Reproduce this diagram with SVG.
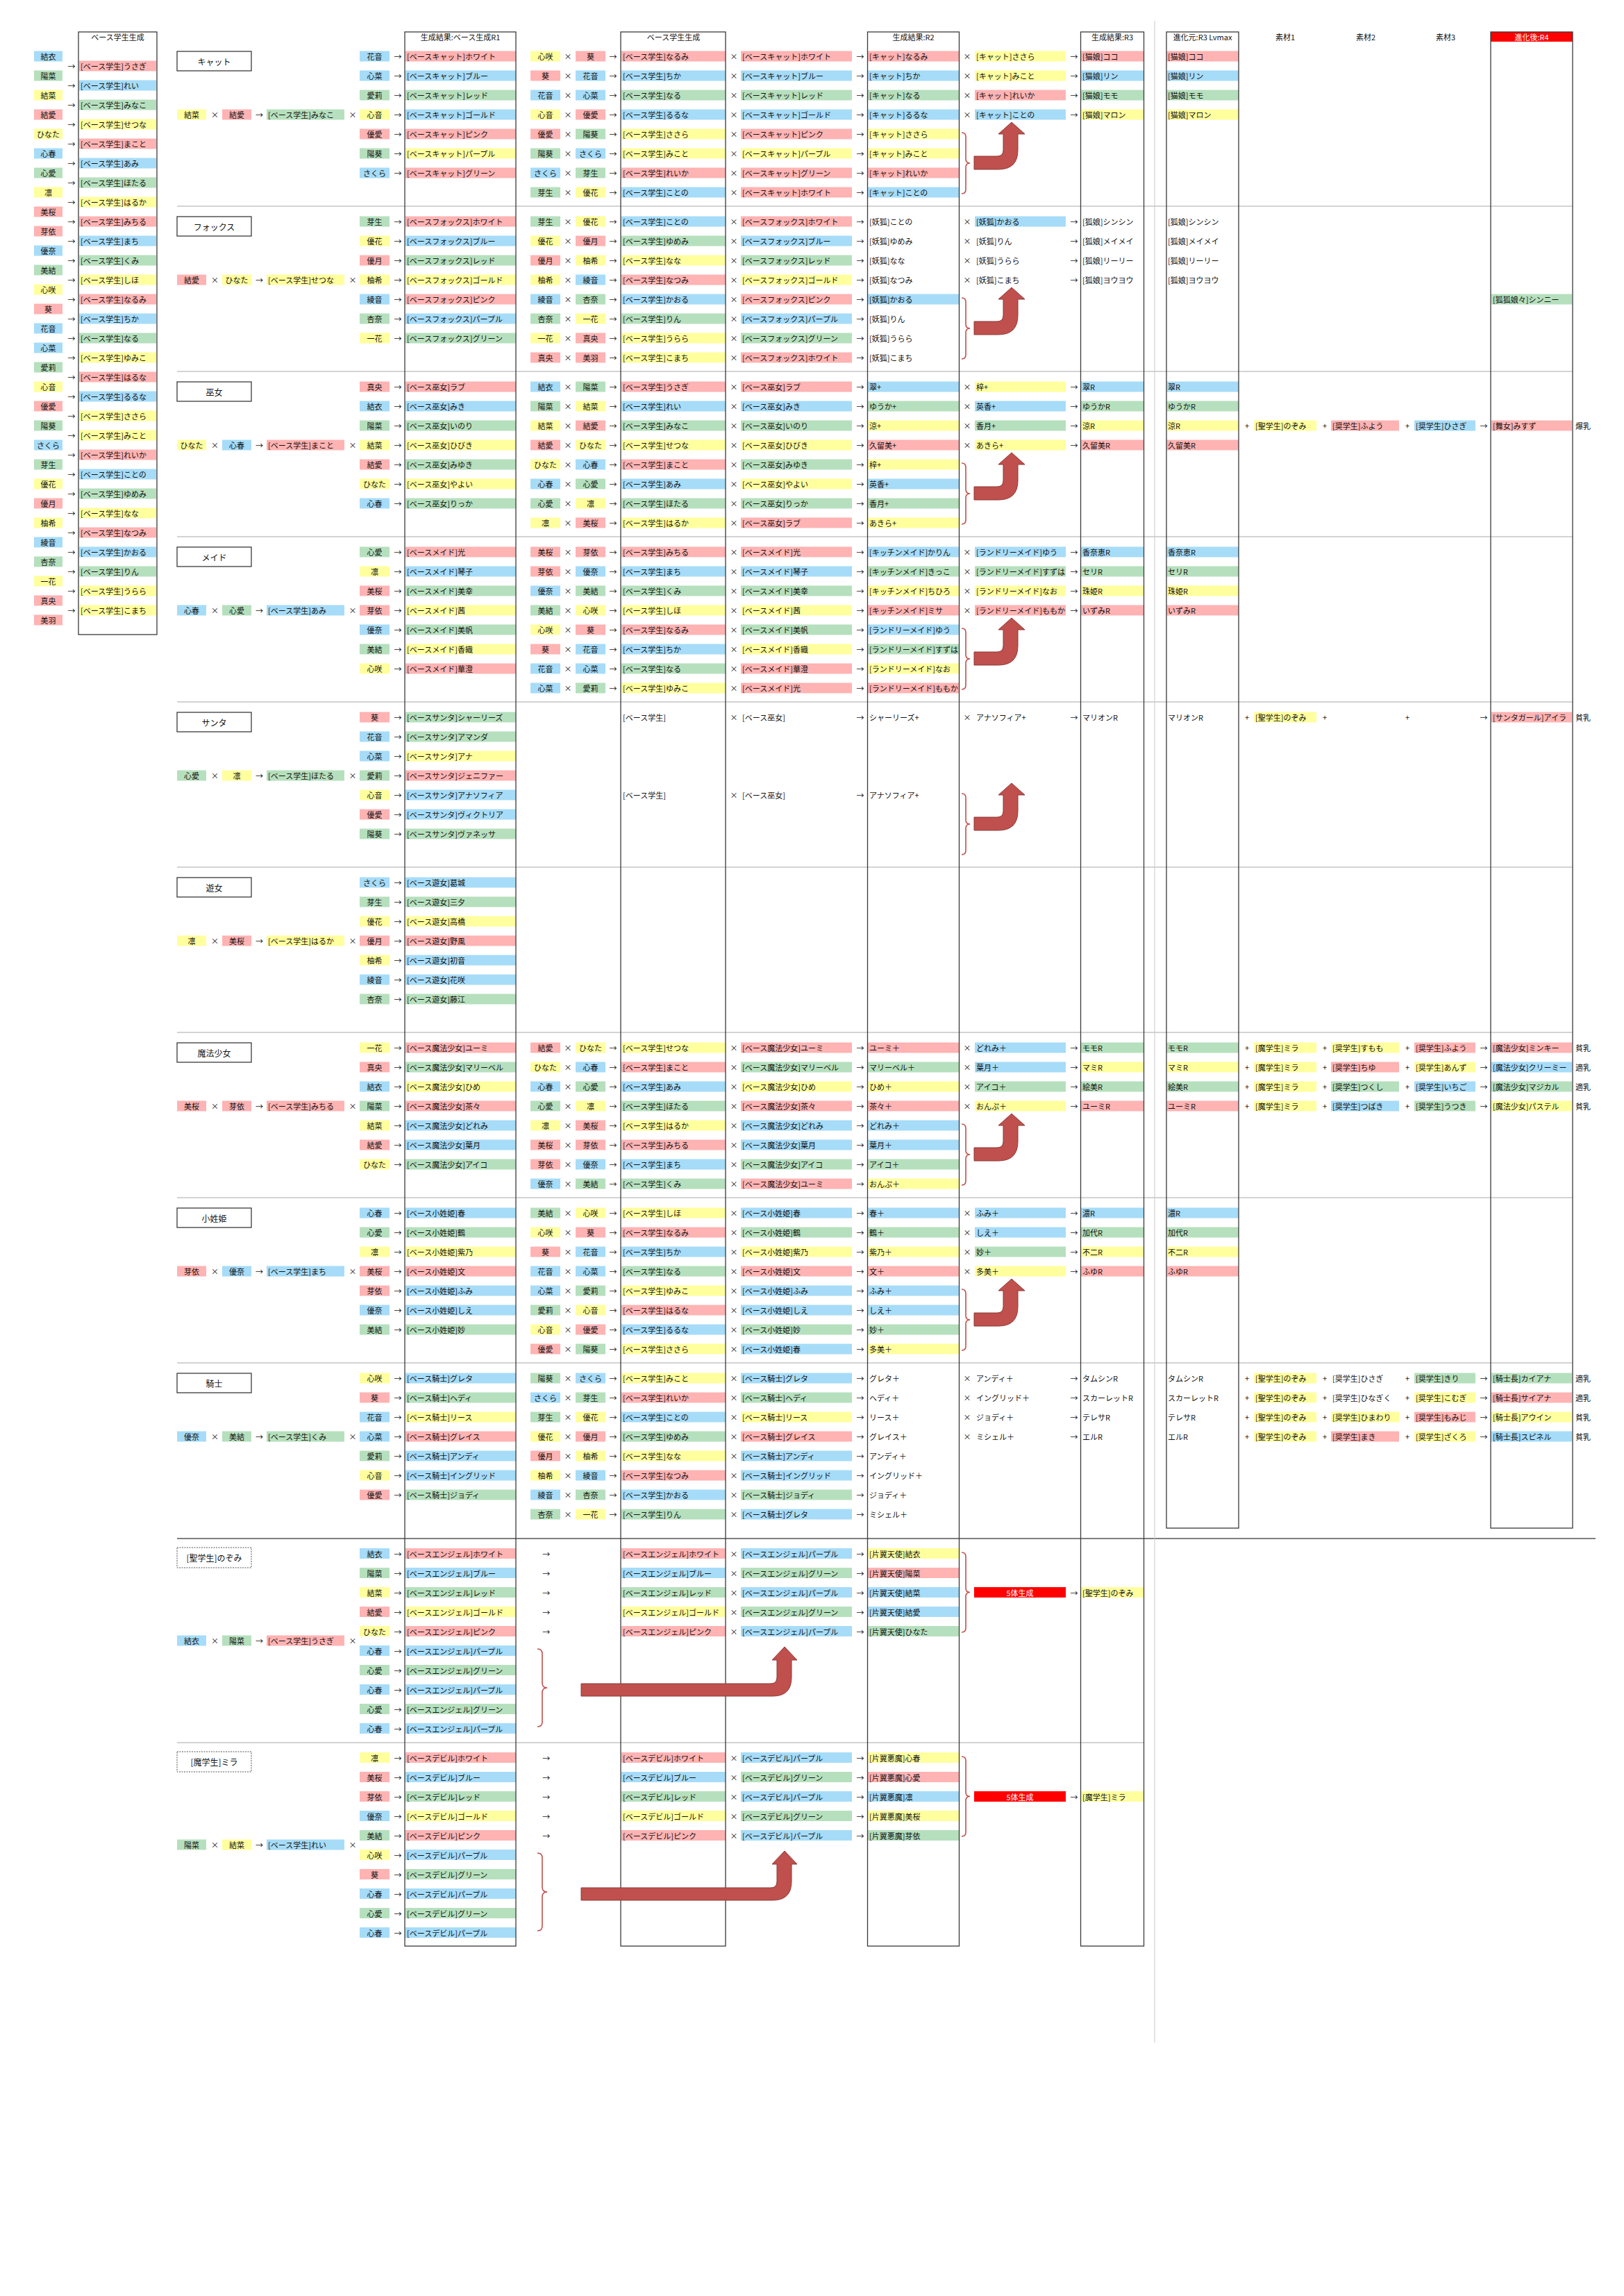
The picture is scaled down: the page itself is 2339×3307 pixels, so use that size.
<svg xmlns="http://www.w3.org/2000/svg" xmlns:xlink="http://www.w3.org/1999/xlink" width="2339" height="3307" viewBox="0 0 2339 3307">
<style>
text{font-family:"Noto Sans CJK JP","Noto Sans",sans-serif;font-size:11px;fill:#111;dominant-baseline:central}
.m{text-anchor:middle}
.k{font-size:12px}
.wt{fill:#fff}
.p{fill:#ffb3b3}.b{fill:#a6dcf8}.g{fill:#b6e0bd}.y{fill:#ffff9e}
.col{fill:none;stroke:#3a3a3a;stroke-width:1.3}
.box{fill:#fff;stroke:#3a3a3a;stroke-width:1.3}
.dot{fill:#fff;stroke:#555;stroke-width:1;stroke-dasharray:2 1.5}
.sep{stroke:#a8a8a8;stroke-width:1}
.br{fill:none;stroke:#c0504d;stroke-width:1.6}
.ar{fill:#c0504d;stroke:#8c3836;stroke-width:1}
</style>
<defs>
<rect id="uA" x="255" y="-7.5" width="42" height="15"/>
<rect id="uB" x="320" y="-7.5" width="42" height="15"/>
<rect id="uC" x="384" y="-7.5" width="112" height="15"/>
<rect id="uN" x="518" y="-7.5" width="43" height="15"/>
<rect id="uR" x="584" y="-7.5" width="159" height="15"/>
<rect id="uPA" x="764" y="-7.5" width="43" height="15"/>
<rect id="uPB" x="829" y="-7.5" width="43" height="15"/>
<rect id="uS" x="895" y="-7.5" width="150" height="15"/>
<rect id="uD" x="1067" y="-7.5" width="160" height="15"/>
<rect id="uE" x="1250" y="-7.5" width="131" height="15"/>
<rect id="uF" x="1404" y="-7.5" width="131" height="15"/>
<rect id="uG" x="1557" y="-7.5" width="90" height="15"/>
<rect id="uH" x="1680" y="-7.5" width="104" height="15"/>
<rect id="uM1" x="1806" y="-7.5" width="90" height="15"/>
<rect id="uM2" x="1917" y="-7.5" width="98" height="15"/>
<rect id="uM3" x="2037" y="-7.5" width="88" height="15"/>
<rect id="uR4" x="2148" y="-7.5" width="116" height="15"/>
<rect id="uLN" x="49" y="-7.5" width="41" height="15"/>
<rect id="uLS" x="114" y="-7.5" width="111" height="15"/>
<g id="s1" class="m"><text x="573">→</text></g>
<g id="s2" class="m"><text x="818">×</text><text x="883">→</text><text x="1057">×</text><text x="1239">→</text></g>
<g id="s3" class="m"><text x="1393">×</text><text x="1547">→</text></g>
<g id="sM" class="m"><text x="1796">+</text><text x="1908">+</text><text x="2027">+</text><text x="2137">→</text></g>
<g id="sF" class="m"><text x="309.5">×</text><text x="373.5">→</text><text x="508">×</text></g>
<g id="sA" class="m"><text x="786.7">→</text><text x="1057">×</text><text x="1239">→</text></g>
<path id="brc" class="br" d="M1385 132q6 0 6 6v32q0 6 6 6q-6 0-6 6v32q0 6-6 6"/>
<path id="arr" class="ar" d="M1403 166H1436Q1445 166 1445 157V134H1438L1457 117L1476 134H1466V157Q1466 185 1438 185H1403Z"/>
<path id="brU" class="br" d="M1385 20q6 0 6 6v45.5q0 6 6 6q-6 0-6 6v45.5q0 6-6 6"/>
<path id="brL" class="br" d="M774 159q7 0 7 7v42q0 7 7 7q-7 0-7 7v42q0 7-7 7"/>
<path id="arB" class="ar" d="M837 209H1110Q1119 209 1119 200V175H1112L1130 156L1148 175H1140V200Q1140 227 1113 227H837Z"/>
</defs>
<rect width="2339" height="3307" fill="#fff"/>

<g id="grid">
<line class="sep" x1="255" y1="297" x2="2265" y2="297"/>
<line class="sep" x1="255" y1="535" x2="2265" y2="535"/>
<line class="sep" x1="255" y1="773" x2="2265" y2="773"/>
<line class="sep" x1="255" y1="1011" x2="2265" y2="1011"/>
<line class="sep" x1="255" y1="1249" x2="2265" y2="1249"/>
<line class="sep" x1="255" y1="1487" x2="2265" y2="1487"/>
<line class="sep" x1="255" y1="1725" x2="2265" y2="1725"/>
<line class="sep" x1="255" y1="1963" x2="2265" y2="1963"/>
<line x1="255" y1="2216" x2="2298" y2="2216" stroke="#555" stroke-width="1.6"/>
<line class="sep" x1="255" y1="2510" x2="1647" y2="2510"/>
<line x1="1663" y1="30" x2="1663" y2="2942" stroke="#c8c8c8" stroke-width="1"/>
</g>

<g id="left-list">
<use href="#uLN" y="81" class="b"/><text x="69.5" y="81" class="m">結衣</text>
<use href="#uLN" y="109" class="g"/><text x="69.5" y="109" class="m">陽菜</text>
<use href="#uLN" y="137" class="y"/><text x="69.5" y="137" class="m">結菜</text>
<use href="#uLN" y="165" class="p"/><text x="69.5" y="165" class="m">結愛</text>
<use href="#uLN" y="193" class="y"/><text x="69.5" y="193" class="m">ひなた</text>
<use href="#uLN" y="221" class="b"/><text x="69.5" y="221" class="m">心春</text>
<use href="#uLN" y="249" class="g"/><text x="69.5" y="249" class="m">心愛</text>
<use href="#uLN" y="277" class="y"/><text x="69.5" y="277" class="m">凛</text>
<use href="#uLN" y="305" class="p"/><text x="69.5" y="305" class="m">美桜</text>
<use href="#uLN" y="333" class="p"/><text x="69.5" y="333" class="m">芽依</text>
<use href="#uLN" y="361" class="b"/><text x="69.5" y="361" class="m">優奈</text>
<use href="#uLN" y="389" class="g"/><text x="69.5" y="389" class="m">美結</text>
<use href="#uLN" y="417" class="y"/><text x="69.5" y="417" class="m">心咲</text>
<use href="#uLN" y="445" class="p"/><text x="69.5" y="445" class="m">葵</text>
<use href="#uLN" y="473" class="b"/><text x="69.5" y="473" class="m">花音</text>
<use href="#uLN" y="501" class="b"/><text x="69.5" y="501" class="m">心菜</text>
<use href="#uLN" y="529" class="g"/><text x="69.5" y="529" class="m">愛莉</text>
<use href="#uLN" y="557" class="y"/><text x="69.5" y="557" class="m">心音</text>
<use href="#uLN" y="585" class="p"/><text x="69.5" y="585" class="m">優愛</text>
<use href="#uLN" y="613" class="g"/><text x="69.5" y="613" class="m">陽葵</text>
<use href="#uLN" y="641" class="b"/><text x="69.5" y="641" class="m">さくら</text>
<use href="#uLN" y="669" class="g"/><text x="69.5" y="669" class="m">芽生</text>
<use href="#uLN" y="697" class="y"/><text x="69.5" y="697" class="m">優花</text>
<use href="#uLN" y="725" class="p"/><text x="69.5" y="725" class="m">優月</text>
<use href="#uLN" y="753" class="y"/><text x="69.5" y="753" class="m">柚希</text>
<use href="#uLN" y="781" class="b"/><text x="69.5" y="781" class="m">綾音</text>
<use href="#uLN" y="809" class="g"/><text x="69.5" y="809" class="m">杏奈</text>
<use href="#uLN" y="837" class="y"/><text x="69.5" y="837" class="m">一花</text>
<use href="#uLN" y="865" class="p"/><text x="69.5" y="865" class="m">真央</text>
<use href="#uLN" y="893" class="p"/><text x="69.5" y="893" class="m">美羽</text>
<use href="#uLS" y="95" class="p"/><text x="103" y="95" class="m">→</text><text x="116" y="95">[ベース学生]うさぎ</text>
<use href="#uLS" y="123" class="b"/><text x="103" y="123" class="m">→</text><text x="116" y="123">[ベース学生]れい</text>
<use href="#uLS" y="151" class="g"/><text x="103" y="151" class="m">→</text><text x="116" y="151">[ベース学生]みなこ</text>
<use href="#uLS" y="179" class="y"/><text x="103" y="179" class="m">→</text><text x="116" y="179">[ベース学生]せつな</text>
<use href="#uLS" y="207" class="p"/><text x="103" y="207" class="m">→</text><text x="116" y="207">[ベース学生]まこと</text>
<use href="#uLS" y="235" class="b"/><text x="103" y="235" class="m">→</text><text x="116" y="235">[ベース学生]あみ</text>
<use href="#uLS" y="263" class="g"/><text x="103" y="263" class="m">→</text><text x="116" y="263">[ベース学生]ほたる</text>
<use href="#uLS" y="291" class="y"/><text x="103" y="291" class="m">→</text><text x="116" y="291">[ベース学生]はるか</text>
<use href="#uLS" y="319" class="p"/><text x="103" y="319" class="m">→</text><text x="116" y="319">[ベース学生]みちる</text>
<use href="#uLS" y="347" class="b"/><text x="103" y="347" class="m">→</text><text x="116" y="347">[ベース学生]まち</text>
<use href="#uLS" y="375" class="g"/><text x="103" y="375" class="m">→</text><text x="116" y="375">[ベース学生]くみ</text>
<use href="#uLS" y="403" class="y"/><text x="103" y="403" class="m">→</text><text x="116" y="403">[ベース学生]しほ</text>
<use href="#uLS" y="431" class="p"/><text x="103" y="431" class="m">→</text><text x="116" y="431">[ベース学生]なるみ</text>
<use href="#uLS" y="459" class="b"/><text x="103" y="459" class="m">→</text><text x="116" y="459">[ベース学生]ちか</text>
<use href="#uLS" y="487" class="g"/><text x="103" y="487" class="m">→</text><text x="116" y="487">[ベース学生]なる</text>
<use href="#uLS" y="515" class="y"/><text x="103" y="515" class="m">→</text><text x="116" y="515">[ベース学生]ゆみこ</text>
<use href="#uLS" y="543" class="p"/><text x="103" y="543" class="m">→</text><text x="116" y="543">[ベース学生]はるな</text>
<use href="#uLS" y="571" class="b"/><text x="103" y="571" class="m">→</text><text x="116" y="571">[ベース学生]るるな</text>
<use href="#uLS" y="599" class="y"/><text x="103" y="599" class="m">→</text><text x="116" y="599">[ベース学生]ささら</text>
<use href="#uLS" y="627" class="y"/><text x="103" y="627" class="m">→</text><text x="116" y="627">[ベース学生]みこと</text>
<use href="#uLS" y="655" class="p"/><text x="103" y="655" class="m">→</text><text x="116" y="655">[ベース学生]れいか</text>
<use href="#uLS" y="683" class="b"/><text x="103" y="683" class="m">→</text><text x="116" y="683">[ベース学生]ことの</text>
<use href="#uLS" y="711" class="g"/><text x="103" y="711" class="m">→</text><text x="116" y="711">[ベース学生]ゆめみ</text>
<use href="#uLS" y="739" class="y"/><text x="103" y="739" class="m">→</text><text x="116" y="739">[ベース学生]なな</text>
<use href="#uLS" y="767" class="p"/><text x="103" y="767" class="m">→</text><text x="116" y="767">[ベース学生]なつみ</text>
<use href="#uLS" y="795" class="b"/><text x="103" y="795" class="m">→</text><text x="116" y="795">[ベース学生]かおる</text>
<use href="#uLS" y="823" class="g"/><text x="103" y="823" class="m">→</text><text x="116" y="823">[ベース学生]りん</text>
<use href="#uLS" y="851" class="y"/><text x="103" y="851" class="m">→</text><text x="116" y="851">[ベース学生]うらら</text>
<use href="#uLS" y="879" class="y"/><text x="103" y="879" class="m">→</text><text x="116" y="879">[ベース学生]こまち</text>
</g>

<g id="sec-cat" transform="translate(0,59)">
<rect class="box" x="255" y="15" width="107" height="28"/><text class="m k" x="308.5" y="29">キャット</text>
<g transform="translate(0,22)"><use href="#uN" class="b"/><text x="539.5" class="m">花音</text><use href="#s1"/><use href="#uR" class="p"/><text x="586">[ベースキャット]ホワイト</text><use href="#uPA" class="y"/><text x="785.5" class="m">心咲</text><use href="#uPB" class="p"/><text x="850.5" class="m">葵</text><use href="#s2"/><use href="#uS" class="p"/><text x="897">[ベース学生]なるみ</text><use href="#uD" class="p"/><text x="1069">[ベースキャット]ホワイト</text><use href="#uE" class="p"/><text x="1252">[キャット]なるみ</text><use href="#s3"/><use href="#uF" class="y"/><text x="1406">[キャット]ささら</text><use href="#uG" class="p"/><text x="1559">[猫娘]ココ</text><use href="#uH" class="p"/><text x="1682">[猫娘]ココ</text></g>
<g transform="translate(0,50)"><use href="#uN" class="b"/><text x="539.5" class="m">心菜</text><use href="#s1"/><use href="#uR" class="b"/><text x="586">[ベースキャット]ブルー</text><use href="#uPA" class="p"/><text x="785.5" class="m">葵</text><use href="#uPB" class="b"/><text x="850.5" class="m">花音</text><use href="#s2"/><use href="#uS" class="b"/><text x="897">[ベース学生]ちか</text><use href="#uD" class="b"/><text x="1069">[ベースキャット]ブルー</text><use href="#uE" class="b"/><text x="1252">[キャット]ちか</text><use href="#s3"/><use href="#uF" class="y"/><text x="1406">[キャット]みこと</text><use href="#uG" class="b"/><text x="1559">[猫娘]リン</text><use href="#uH" class="b"/><text x="1682">[猫娘]リン</text></g>
<g transform="translate(0,78)"><use href="#uN" class="g"/><text x="539.5" class="m">愛莉</text><use href="#s1"/><use href="#uR" class="g"/><text x="586">[ベースキャット]レッド</text><use href="#uPA" class="b"/><text x="785.5" class="m">花音</text><use href="#uPB" class="b"/><text x="850.5" class="m">心菜</text><use href="#s2"/><use href="#uS" class="g"/><text x="897">[ベース学生]なる</text><use href="#uD" class="g"/><text x="1069">[ベースキャット]レッド</text><use href="#uE" class="g"/><text x="1252">[キャット]なる</text><use href="#s3"/><use href="#uF" class="p"/><text x="1406">[キャット]れいか</text><use href="#uG" class="g"/><text x="1559">[猫娘]モモ</text><use href="#uH" class="g"/><text x="1682">[猫娘]モモ</text></g>
<g transform="translate(0,106)"><use href="#uA" class="y"/><text x="276" class="m">結菜</text><use href="#uB" class="p"/><text x="341" class="m">結愛</text><use href="#uC" class="g"/><text x="386">[ベース学生]みなこ</text><use href="#sF"/><use href="#uN" class="y"/><text x="539.5" class="m">心音</text><use href="#s1"/><use href="#uR" class="b"/><text x="586">[ベースキャット]ゴールド</text><use href="#uPA" class="y"/><text x="785.5" class="m">心音</text><use href="#uPB" class="p"/><text x="850.5" class="m">優愛</text><use href="#s2"/><use href="#uS" class="b"/><text x="897">[ベース学生]るるな</text><use href="#uD" class="b"/><text x="1069">[ベースキャット]ゴールド</text><use href="#uE" class="b"/><text x="1252">[キャット]るるな</text><use href="#s3"/><use href="#uF" class="b"/><text x="1406">[キャット]ことの</text><use href="#uG" class="y"/><text x="1559">[猫娘]マロン</text><use href="#uH" class="y"/><text x="1682">[猫娘]マロン</text></g>
<g transform="translate(0,134)"><use href="#uN" class="p"/><text x="539.5" class="m">優愛</text><use href="#s1"/><use href="#uR" class="p"/><text x="586">[ベースキャット]ピンク</text><use href="#uPA" class="p"/><text x="785.5" class="m">優愛</text><use href="#uPB" class="g"/><text x="850.5" class="m">陽葵</text><use href="#s2"/><use href="#uS" class="y"/><text x="897">[ベース学生]ささら</text><use href="#uD" class="p"/><text x="1069">[ベースキャット]ピンク</text><use href="#uE" class="y"/><text x="1252">[キャット]ささら</text></g>
<g transform="translate(0,162)"><use href="#uN" class="g"/><text x="539.5" class="m">陽葵</text><use href="#s1"/><use href="#uR" class="y"/><text x="586">[ベースキャット]パープル</text><use href="#uPA" class="g"/><text x="785.5" class="m">陽葵</text><use href="#uPB" class="b"/><text x="850.5" class="m">さくら</text><use href="#s2"/><use href="#uS" class="y"/><text x="897">[ベース学生]みこと</text><use href="#uD" class="y"/><text x="1069">[ベースキャット]パープル</text><use href="#uE" class="y"/><text x="1252">[キャット]みこと</text></g>
<g transform="translate(0,190)"><use href="#uN" class="b"/><text x="539.5" class="m">さくら</text><use href="#s1"/><use href="#uR" class="p"/><text x="586">[ベースキャット]グリーン</text><use href="#uPA" class="b"/><text x="785.5" class="m">さくら</text><use href="#uPB" class="g"/><text x="850.5" class="m">芽生</text><use href="#s2"/><use href="#uS" class="p"/><text x="897">[ベース学生]れいか</text><use href="#uD" class="p"/><text x="1069">[ベースキャット]グリーン</text><use href="#uE" class="p"/><text x="1252">[キャット]れいか</text></g>
<g transform="translate(0,218)"><use href="#uPA" class="g"/><text x="785.5" class="m">芽生</text><use href="#uPB" class="y"/><text x="850.5" class="m">優花</text><use href="#s2"/><use href="#uS" class="b"/><text x="897">[ベース学生]ことの</text><use href="#uD" class="p"/><text x="1069">[ベースキャット]ホワイト</text><use href="#uE" class="b"/><text x="1252">[キャット]ことの</text></g>
</g>

<g id="sec-fox" transform="translate(0,297)">
<rect class="box" x="255" y="15" width="107" height="28"/><text class="m k" x="308.5" y="29">フォックス</text>
<g transform="translate(0,22)"><use href="#uN" class="g"/><text x="539.5" class="m">芽生</text><use href="#s1"/><use href="#uR" class="p"/><text x="586">[ベースフォックス]ホワイト</text><use href="#uPA" class="g"/><text x="785.5" class="m">芽生</text><use href="#uPB" class="y"/><text x="850.5" class="m">優花</text><use href="#s2"/><use href="#uS" class="b"/><text x="897">[ベース学生]ことの</text><use href="#uD" class="p"/><text x="1069">[ベースフォックス]ホワイト</text><text x="1252">[妖狐]ことの</text><use href="#s3"/><use href="#uF" class="b"/><text x="1406">[妖狐]かおる</text><text x="1559">[狐娘]シンシン</text><text x="1682">[狐娘]シンシン</text></g>
<g transform="translate(0,50)"><use href="#uN" class="y"/><text x="539.5" class="m">優花</text><use href="#s1"/><use href="#uR" class="b"/><text x="586">[ベースフォックス]ブルー</text><use href="#uPA" class="y"/><text x="785.5" class="m">優花</text><use href="#uPB" class="p"/><text x="850.5" class="m">優月</text><use href="#s2"/><use href="#uS" class="g"/><text x="897">[ベース学生]ゆめみ</text><use href="#uD" class="b"/><text x="1069">[ベースフォックス]ブルー</text><text x="1252">[妖狐]ゆめみ</text><use href="#s3"/><text x="1406">[妖狐]りん</text><text x="1559">[狐娘]メイメイ</text><text x="1682">[狐娘]メイメイ</text></g>
<g transform="translate(0,78)"><use href="#uN" class="p"/><text x="539.5" class="m">優月</text><use href="#s1"/><use href="#uR" class="g"/><text x="586">[ベースフォックス]レッド</text><use href="#uPA" class="p"/><text x="785.5" class="m">優月</text><use href="#uPB" class="y"/><text x="850.5" class="m">柚希</text><use href="#s2"/><use href="#uS" class="y"/><text x="897">[ベース学生]なな</text><use href="#uD" class="g"/><text x="1069">[ベースフォックス]レッド</text><text x="1252">[妖狐]なな</text><use href="#s3"/><text x="1406">[妖狐]うらら</text><text x="1559">[狐娘]リーリー</text><text x="1682">[狐娘]リーリー</text></g>
<g transform="translate(0,106)"><use href="#uA" class="p"/><text x="276" class="m">結愛</text><use href="#uB" class="y"/><text x="341" class="m">ひなた</text><use href="#uC" class="y"/><text x="386">[ベース学生]せつな</text><use href="#sF"/><use href="#uN" class="y"/><text x="539.5" class="m">柚希</text><use href="#s1"/><use href="#uR" class="y"/><text x="586">[ベースフォックス]ゴールド</text><use href="#uPA" class="y"/><text x="785.5" class="m">柚希</text><use href="#uPB" class="b"/><text x="850.5" class="m">綾音</text><use href="#s2"/><use href="#uS" class="p"/><text x="897">[ベース学生]なつみ</text><use href="#uD" class="y"/><text x="1069">[ベースフォックス]ゴールド</text><text x="1252">[妖狐]なつみ</text><use href="#s3"/><text x="1406">[妖狐]こまち</text><text x="1559">[狐娘]ヨウヨウ</text><text x="1682">[狐娘]ヨウヨウ</text></g>
<g transform="translate(0,134)"><use href="#uN" class="b"/><text x="539.5" class="m">綾音</text><use href="#s1"/><use href="#uR" class="p"/><text x="586">[ベースフォックス]ピンク</text><use href="#uPA" class="b"/><text x="785.5" class="m">綾音</text><use href="#uPB" class="g"/><text x="850.5" class="m">杏奈</text><use href="#s2"/><use href="#uS" class="b"/><text x="897">[ベース学生]かおる</text><use href="#uD" class="p"/><text x="1069">[ベースフォックス]ピンク</text><use href="#uE" class="b"/><text x="1252">[妖狐]かおる</text><use href="#uR4" class="g"/><text x="2150">[狐狐娘々]シンニー</text></g>
<g transform="translate(0,162)"><use href="#uN" class="g"/><text x="539.5" class="m">杏奈</text><use href="#s1"/><use href="#uR" class="b"/><text x="586">[ベースフォックス]パープル</text><use href="#uPA" class="g"/><text x="785.5" class="m">杏奈</text><use href="#uPB" class="y"/><text x="850.5" class="m">一花</text><use href="#s2"/><use href="#uS" class="g"/><text x="897">[ベース学生]りん</text><use href="#uD" class="b"/><text x="1069">[ベースフォックス]パープル</text><text x="1252">[妖狐]りん</text></g>
<g transform="translate(0,190)"><use href="#uN" class="y"/><text x="539.5" class="m">一花</text><use href="#s1"/><use href="#uR" class="g"/><text x="586">[ベースフォックス]グリーン</text><use href="#uPA" class="y"/><text x="785.5" class="m">一花</text><use href="#uPB" class="p"/><text x="850.5" class="m">真央</text><use href="#s2"/><use href="#uS" class="y"/><text x="897">[ベース学生]うらら</text><use href="#uD" class="g"/><text x="1069">[ベースフォックス]グリーン</text><text x="1252">[妖狐]うらら</text></g>
<g transform="translate(0,218)"><use href="#uPA" class="p"/><text x="785.5" class="m">真央</text><use href="#uPB" class="p"/><text x="850.5" class="m">美羽</text><use href="#s2"/><use href="#uS" class="y"/><text x="897">[ベース学生]こまち</text><use href="#uD" class="p"/><text x="1069">[ベースフォックス]ホワイト</text><text x="1252">[妖狐]こまち</text></g>
</g>

<g id="sec-miko" transform="translate(0,535)">
<rect class="box" x="255" y="15" width="107" height="28"/><text class="m k" x="308.5" y="29">巫女</text>
<g transform="translate(0,22)"><use href="#uN" class="p"/><text x="539.5" class="m">真央</text><use href="#s1"/><use href="#uR" class="p"/><text x="586">[ベース巫女]ラブ</text><use href="#uPA" class="b"/><text x="785.5" class="m">結衣</text><use href="#uPB" class="g"/><text x="850.5" class="m">陽菜</text><use href="#s2"/><use href="#uS" class="p"/><text x="897">[ベース学生]うさぎ</text><use href="#uD" class="p"/><text x="1069">[ベース巫女]ラブ</text><use href="#uE" class="b"/><text x="1252">翠+</text><use href="#s3"/><use href="#uF" class="y"/><text x="1406">梓+</text><use href="#uG" class="b"/><text x="1559">翠R</text><use href="#uH" class="b"/><text x="1682">翠R</text></g>
<g transform="translate(0,50)"><use href="#uN" class="b"/><text x="539.5" class="m">結衣</text><use href="#s1"/><use href="#uR" class="b"/><text x="586">[ベース巫女]みき</text><use href="#uPA" class="g"/><text x="785.5" class="m">陽菜</text><use href="#uPB" class="y"/><text x="850.5" class="m">結菜</text><use href="#s2"/><use href="#uS" class="b"/><text x="897">[ベース学生]れい</text><use href="#uD" class="b"/><text x="1069">[ベース巫女]みき</text><use href="#uE" class="g"/><text x="1252">ゆうか+</text><use href="#s3"/><use href="#uF" class="b"/><text x="1406">英香+</text><use href="#uG" class="g"/><text x="1559">ゆうかR</text><use href="#uH" class="g"/><text x="1682">ゆうかR</text></g>
<g transform="translate(0,78)"><use href="#uN" class="g"/><text x="539.5" class="m">陽菜</text><use href="#s1"/><use href="#uR" class="g"/><text x="586">[ベース巫女]いのり</text><use href="#uPA" class="y"/><text x="785.5" class="m">結菜</text><use href="#uPB" class="p"/><text x="850.5" class="m">結愛</text><use href="#s2"/><use href="#uS" class="g"/><text x="897">[ベース学生]みなこ</text><use href="#uD" class="g"/><text x="1069">[ベース巫女]いのり</text><use href="#uE" class="y"/><text x="1252">涼+</text><use href="#s3"/><use href="#uF" class="g"/><text x="1406">香月+</text><use href="#uG" class="y"/><text x="1559">涼R</text><use href="#uH" class="y"/><text x="1682">涼R</text><use href="#sM"/><use href="#uM1" class="y"/><text x="1808">[聖学生]のぞみ</text><use href="#uM2" class="p"/><text x="1919">[奨学生]ふよう</text><use href="#uM3" class="b"/><text x="2039">[奨学生]ひさぎ</text><use href="#uR4" class="p"/><text x="2150">[舞女]みすず</text><text x="2269">爆乳</text></g>
<g transform="translate(0,106)"><use href="#uA" class="y"/><text x="276" class="m">ひなた</text><use href="#uB" class="b"/><text x="341" class="m">心春</text><use href="#uC" class="p"/><text x="386">[ベース学生]まこと</text><use href="#sF"/><use href="#uN" class="y"/><text x="539.5" class="m">結菜</text><use href="#s1"/><use href="#uR" class="y"/><text x="586">[ベース巫女]ひびき</text><use href="#uPA" class="p"/><text x="785.5" class="m">結愛</text><use href="#uPB" class="y"/><text x="850.5" class="m">ひなた</text><use href="#s2"/><use href="#uS" class="y"/><text x="897">[ベース学生]せつな</text><use href="#uD" class="y"/><text x="1069">[ベース巫女]ひびき</text><use href="#uE" class="p"/><text x="1252">久留美+</text><use href="#s3"/><use href="#uF" class="y"/><text x="1406">あきら+</text><use href="#uG" class="p"/><text x="1559">久留美R</text><use href="#uH" class="p"/><text x="1682">久留美R</text></g>
<g transform="translate(0,134)"><use href="#uN" class="p"/><text x="539.5" class="m">結愛</text><use href="#s1"/><use href="#uR" class="g"/><text x="586">[ベース巫女]みゆき</text><use href="#uPA" class="y"/><text x="785.5" class="m">ひなた</text><use href="#uPB" class="b"/><text x="850.5" class="m">心春</text><use href="#s2"/><use href="#uS" class="p"/><text x="897">[ベース学生]まこと</text><use href="#uD" class="g"/><text x="1069">[ベース巫女]みゆき</text><use href="#uE" class="y"/><text x="1252">梓+</text></g>
<g transform="translate(0,162)"><use href="#uN" class="y"/><text x="539.5" class="m">ひなた</text><use href="#s1"/><use href="#uR" class="y"/><text x="586">[ベース巫女]やよい</text><use href="#uPA" class="b"/><text x="785.5" class="m">心春</text><use href="#uPB" class="g"/><text x="850.5" class="m">心愛</text><use href="#s2"/><use href="#uS" class="b"/><text x="897">[ベース学生]あみ</text><use href="#uD" class="y"/><text x="1069">[ベース巫女]やよい</text><use href="#uE" class="b"/><text x="1252">英香+</text></g>
<g transform="translate(0,190)"><use href="#uN" class="b"/><text x="539.5" class="m">心春</text><use href="#s1"/><use href="#uR" class="g"/><text x="586">[ベース巫女]りっか</text><use href="#uPA" class="g"/><text x="785.5" class="m">心愛</text><use href="#uPB" class="y"/><text x="850.5" class="m">凛</text><use href="#s2"/><use href="#uS" class="g"/><text x="897">[ベース学生]ほたる</text><use href="#uD" class="g"/><text x="1069">[ベース巫女]りっか</text><use href="#uE" class="g"/><text x="1252">香月+</text></g>
<g transform="translate(0,218)"><use href="#uPA" class="y"/><text x="785.5" class="m">凛</text><use href="#uPB" class="p"/><text x="850.5" class="m">美桜</text><use href="#s2"/><use href="#uS" class="y"/><text x="897">[ベース学生]はるか</text><use href="#uD" class="p"/><text x="1069">[ベース巫女]ラブ</text><use href="#uE" class="y"/><text x="1252">あきら+</text></g>
</g>

<g id="sec-maid" transform="translate(0,773)">
<rect class="box" x="255" y="15" width="107" height="28"/><text class="m k" x="308.5" y="29">メイド</text>
<g transform="translate(0,22)"><use href="#uN" class="g"/><text x="539.5" class="m">心愛</text><use href="#s1"/><use href="#uR" class="p"/><text x="586">[ベースメイド]光</text><use href="#uPA" class="p"/><text x="785.5" class="m">美桜</text><use href="#uPB" class="p"/><text x="850.5" class="m">芽依</text><use href="#s2"/><use href="#uS" class="p"/><text x="897">[ベース学生]みちる</text><use href="#uD" class="p"/><text x="1069">[ベースメイド]光</text><use href="#uE" class="b"/><text x="1252">[キッチンメイド]かりん</text><use href="#s3"/><use href="#uF" class="b"/><text x="1406">[ランドリーメイド]ゆう</text><use href="#uG" class="b"/><text x="1559">香奈恵R</text><use href="#uH" class="b"/><text x="1682">香奈恵R</text></g>
<g transform="translate(0,50)"><use href="#uN" class="y"/><text x="539.5" class="m">凛</text><use href="#s1"/><use href="#uR" class="b"/><text x="586">[ベースメイド]琴子</text><use href="#uPA" class="p"/><text x="785.5" class="m">芽依</text><use href="#uPB" class="b"/><text x="850.5" class="m">優奈</text><use href="#s2"/><use href="#uS" class="b"/><text x="897">[ベース学生]まち</text><use href="#uD" class="b"/><text x="1069">[ベースメイド]琴子</text><use href="#uE" class="g"/><text x="1252">[キッチンメイド]きっこ</text><use href="#s3"/><use href="#uF" class="g"/><text x="1406">[ランドリーメイド]すずは</text><use href="#uG" class="g"/><text x="1559">セリR</text><use href="#uH" class="g"/><text x="1682">セリR</text></g>
<g transform="translate(0,78)"><use href="#uN" class="p"/><text x="539.5" class="m">美桜</text><use href="#s1"/><use href="#uR" class="g"/><text x="586">[ベースメイド]美幸</text><use href="#uPA" class="b"/><text x="785.5" class="m">優奈</text><use href="#uPB" class="g"/><text x="850.5" class="m">美結</text><use href="#s2"/><use href="#uS" class="g"/><text x="897">[ベース学生]くみ</text><use href="#uD" class="g"/><text x="1069">[ベースメイド]美幸</text><use href="#uE" class="y"/><text x="1252">[キッチンメイド]ちひろ</text><use href="#s3"/><use href="#uF" class="y"/><text x="1406">[ランドリーメイド]なお</text><use href="#uG" class="y"/><text x="1559">珠姫R</text><use href="#uH" class="y"/><text x="1682">珠姫R</text></g>
<g transform="translate(0,106)"><use href="#uA" class="b"/><text x="276" class="m">心春</text><use href="#uB" class="g"/><text x="341" class="m">心愛</text><use href="#uC" class="b"/><text x="386">[ベース学生]あみ</text><use href="#sF"/><use href="#uN" class="p"/><text x="539.5" class="m">芽依</text><use href="#s1"/><use href="#uR" class="y"/><text x="586">[ベースメイド]茜</text><use href="#uPA" class="g"/><text x="785.5" class="m">美結</text><use href="#uPB" class="y"/><text x="850.5" class="m">心咲</text><use href="#s2"/><use href="#uS" class="y"/><text x="897">[ベース学生]しほ</text><use href="#uD" class="y"/><text x="1069">[ベースメイド]茜</text><use href="#uE" class="p"/><text x="1252">[キッチンメイド]ミサ</text><use href="#s3"/><use href="#uF" class="p"/><text x="1406">[ランドリーメイド]ももか</text><use href="#uG" class="p"/><text x="1559">いずみR</text><use href="#uH" class="p"/><text x="1682">いずみR</text></g>
<g transform="translate(0,134)"><use href="#uN" class="b"/><text x="539.5" class="m">優奈</text><use href="#s1"/><use href="#uR" class="g"/><text x="586">[ベースメイド]美帆</text><use href="#uPA" class="y"/><text x="785.5" class="m">心咲</text><use href="#uPB" class="p"/><text x="850.5" class="m">葵</text><use href="#s2"/><use href="#uS" class="p"/><text x="897">[ベース学生]なるみ</text><use href="#uD" class="g"/><text x="1069">[ベースメイド]美帆</text><use href="#uE" class="b"/><text x="1252">[ランドリーメイド]ゆう</text></g>
<g transform="translate(0,162)"><use href="#uN" class="g"/><text x="539.5" class="m">美結</text><use href="#s1"/><use href="#uR" class="y"/><text x="586">[ベースメイド]香織</text><use href="#uPA" class="p"/><text x="785.5" class="m">葵</text><use href="#uPB" class="b"/><text x="850.5" class="m">花音</text><use href="#s2"/><use href="#uS" class="b"/><text x="897">[ベース学生]ちか</text><use href="#uD" class="y"/><text x="1069">[ベースメイド]香織</text><use href="#uE" class="g"/><text x="1252">[ランドリーメイド]すずは</text></g>
<g transform="translate(0,190)"><use href="#uN" class="y"/><text x="539.5" class="m">心咲</text><use href="#s1"/><use href="#uR" class="p"/><text x="586">[ベースメイド]華澄</text><use href="#uPA" class="b"/><text x="785.5" class="m">花音</text><use href="#uPB" class="b"/><text x="850.5" class="m">心菜</text><use href="#s2"/><use href="#uS" class="g"/><text x="897">[ベース学生]なる</text><use href="#uD" class="p"/><text x="1069">[ベースメイド]華澄</text><use href="#uE" class="y"/><text x="1252">[ランドリーメイド]なお</text></g>
<g transform="translate(0,218)"><use href="#uPA" class="b"/><text x="785.5" class="m">心菜</text><use href="#uPB" class="g"/><text x="850.5" class="m">愛莉</text><use href="#s2"/><use href="#uS" class="y"/><text x="897">[ベース学生]ゆみこ</text><use href="#uD" class="p"/><text x="1069">[ベースメイド]光</text><use href="#uE" class="p"/><text x="1252">[ランドリーメイド]ももか</text></g>
</g>

<g id="sec-santa" transform="translate(0,1011)">
<rect class="box" x="255" y="15" width="107" height="28"/><text class="m k" x="308.5" y="29">サンタ</text>
<g transform="translate(0,22)"><use href="#uN" class="p"/><text x="539.5" class="m">葵</text><use href="#s1"/><use href="#uR" class="g"/><text x="586">[ベースサンタ]シャーリーズ</text><text x="897">[ベース学生]</text><text x="1057" class="m">×</text><text x="1069">[ベース巫女]</text><text x="1239" class="m">→</text><text x="1252">シャーリーズ+</text><use href="#s3"/><text x="1406">アナソフィア+</text><text x="1559">マリオンR</text><text x="1682">マリオンR</text><use href="#sM"/><use href="#uM1" class="y"/><text x="1808">[聖学生]のぞみ</text><use href="#uR4" class="p"/><text x="2150">[サンタガール]アイラ</text><text x="2269">貧乳</text></g>
<g transform="translate(0,50)"><use href="#uN" class="b"/><text x="539.5" class="m">花音</text><use href="#s1"/><use href="#uR" class="g"/><text x="586">[ベースサンタ]アマンダ</text></g>
<g transform="translate(0,78)"><use href="#uN" class="b"/><text x="539.5" class="m">心菜</text><use href="#s1"/><use href="#uR" class="y"/><text x="586">[ベースサンタ]アナ</text></g>
<g transform="translate(0,106)"><use href="#uA" class="g"/><text x="276" class="m">心愛</text><use href="#uB" class="y"/><text x="341" class="m">凛</text><use href="#uC" class="g"/><text x="386">[ベース学生]ほたる</text><use href="#sF"/><use href="#uN" class="g"/><text x="539.5" class="m">愛莉</text><use href="#s1"/><use href="#uR" class="p"/><text x="586">[ベースサンタ]ジェニファー</text></g>
<g transform="translate(0,134)"><use href="#uN" class="y"/><text x="539.5" class="m">心音</text><use href="#s1"/><use href="#uR" class="b"/><text x="586">[ベースサンタ]アナソフィア</text><text x="897">[ベース学生]</text><text x="1057" class="m">×</text><text x="1069">[ベース巫女]</text><text x="1239" class="m">→</text><text x="1252">アナソフィア+</text></g>
<g transform="translate(0,162)"><use href="#uN" class="p"/><text x="539.5" class="m">優愛</text><use href="#s1"/><use href="#uR" class="b"/><text x="586">[ベースサンタ]ヴィクトリア</text></g>
<g transform="translate(0,190)"><use href="#uN" class="g"/><text x="539.5" class="m">陽葵</text><use href="#s1"/><use href="#uR" class="g"/><text x="586">[ベースサンタ]ヴァネッサ</text></g>
</g>

<g id="sec-yujo" transform="translate(0,1249)">
<rect class="box" x="255" y="15" width="107" height="28"/><text class="m k" x="308.5" y="29">遊女</text>
<g transform="translate(0,22)"><use href="#uN" class="b"/><text x="539.5" class="m">さくら</text><use href="#s1"/><use href="#uR" class="b"/><text x="586">[ベース遊女]葛城</text></g>
<g transform="translate(0,50)"><use href="#uN" class="g"/><text x="539.5" class="m">芽生</text><use href="#s1"/><use href="#uR" class="g"/><text x="586">[ベース遊女]三夕</text></g>
<g transform="translate(0,78)"><use href="#uN" class="y"/><text x="539.5" class="m">優花</text><use href="#s1"/><use href="#uR" class="y"/><text x="586">[ベース遊女]高橋</text></g>
<g transform="translate(0,106)"><use href="#uA" class="y"/><text x="276" class="m">凛</text><use href="#uB" class="p"/><text x="341" class="m">美桜</text><use href="#uC" class="y"/><text x="386">[ベース学生]はるか</text><use href="#sF"/><use href="#uN" class="p"/><text x="539.5" class="m">優月</text><use href="#s1"/><use href="#uR" class="p"/><text x="586">[ベース遊女]野風</text></g>
<g transform="translate(0,134)"><use href="#uN" class="y"/><text x="539.5" class="m">柚希</text><use href="#s1"/><use href="#uR" class="b"/><text x="586">[ベース遊女]初音</text></g>
<g transform="translate(0,162)"><use href="#uN" class="b"/><text x="539.5" class="m">綾音</text><use href="#s1"/><use href="#uR" class="b"/><text x="586">[ベース遊女]花咲</text></g>
<g transform="translate(0,190)"><use href="#uN" class="g"/><text x="539.5" class="m">杏奈</text><use href="#s1"/><use href="#uR" class="g"/><text x="586">[ベース遊女]藤江</text></g>
</g>

<g id="sec-mahou" transform="translate(0,1487)">
<rect class="box" x="255" y="15" width="107" height="28"/><text class="m k" x="308.5" y="29">魔法少女</text>
<g transform="translate(0,22)"><use href="#uN" class="y"/><text x="539.5" class="m">一花</text><use href="#s1"/><use href="#uR" class="p"/><text x="586">[ベース魔法少女]ユーミ</text><use href="#uPA" class="p"/><text x="785.5" class="m">結愛</text><use href="#uPB" class="y"/><text x="850.5" class="m">ひなた</text><use href="#s2"/><use href="#uS" class="y"/><text x="897">[ベース学生]せつな</text><use href="#uD" class="p"/><text x="1069">[ベース魔法少女]ユーミ</text><use href="#uE" class="p"/><text x="1252">ユーミ＋</text><use href="#s3"/><use href="#uF" class="b"/><text x="1406">どれみ＋</text><use href="#uG" class="g"/><text x="1559">モモR</text><use href="#uH" class="g"/><text x="1682">モモR</text><use href="#sM"/><use href="#uM1" class="y"/><text x="1808">[魔学生]ミラ</text><use href="#uM2" class="y"/><text x="1919">[奨学生]すもも</text><use href="#uM3" class="p"/><text x="2039">[奨学生]ふよう</text><use href="#uR4" class="p"/><text x="2150">[魔法少女]ミンキー</text><text x="2269">貧乳</text></g>
<g transform="translate(0,50)"><use href="#uN" class="p"/><text x="539.5" class="m">真央</text><use href="#s1"/><use href="#uR" class="g"/><text x="586">[ベース魔法少女]マリーベル</text><use href="#uPA" class="y"/><text x="785.5" class="m">ひなた</text><use href="#uPB" class="b"/><text x="850.5" class="m">心春</text><use href="#s2"/><use href="#uS" class="p"/><text x="897">[ベース学生]まこと</text><use href="#uD" class="g"/><text x="1069">[ベース魔法少女]マリーベル</text><use href="#uE" class="g"/><text x="1252">マリーベル＋</text><use href="#s3"/><use href="#uF" class="b"/><text x="1406">葉月＋</text><use href="#uG" class="y"/><text x="1559">マミR</text><use href="#uH" class="y"/><text x="1682">マミR</text><use href="#sM"/><use href="#uM1" class="y"/><text x="1808">[魔学生]ミラ</text><use href="#uM2" class="p"/><text x="1919">[奨学生]ちゆ</text><use href="#uM3" class="y"/><text x="2039">[奨学生]あんず</text><use href="#uR4" class="b"/><text x="2150">[魔法少女]クリーミー</text><text x="2269">適乳</text></g>
<g transform="translate(0,78)"><use href="#uN" class="b"/><text x="539.5" class="m">結衣</text><use href="#s1"/><use href="#uR" class="y"/><text x="586">[ベース魔法少女]ひめ</text><use href="#uPA" class="b"/><text x="785.5" class="m">心春</text><use href="#uPB" class="g"/><text x="850.5" class="m">心愛</text><use href="#s2"/><use href="#uS" class="b"/><text x="897">[ベース学生]あみ</text><use href="#uD" class="y"/><text x="1069">[ベース魔法少女]ひめ</text><use href="#uE" class="y"/><text x="1252">ひめ＋</text><use href="#s3"/><use href="#uF" class="g"/><text x="1406">アイコ＋</text><use href="#uG" class="g"/><text x="1559">絵美R</text><use href="#uH" class="g"/><text x="1682">絵美R</text><use href="#sM"/><use href="#uM1" class="y"/><text x="1808">[魔学生]ミラ</text><use href="#uM2" class="g"/><text x="1919">[奨学生]つくし</text><use href="#uM3" class="b"/><text x="2039">[奨学生]いちご</text><use href="#uR4" class="g"/><text x="2150">[魔法少女]マジカル</text><text x="2269">適乳</text></g>
<g transform="translate(0,106)"><use href="#uA" class="p"/><text x="276" class="m">美桜</text><use href="#uB" class="p"/><text x="341" class="m">芽依</text><use href="#uC" class="p"/><text x="386">[ベース学生]みちる</text><use href="#sF"/><use href="#uN" class="g"/><text x="539.5" class="m">陽菜</text><use href="#s1"/><use href="#uR" class="p"/><text x="586">[ベース魔法少女]茶々</text><use href="#uPA" class="g"/><text x="785.5" class="m">心愛</text><use href="#uPB" class="y"/><text x="850.5" class="m">凛</text><use href="#s2"/><use href="#uS" class="g"/><text x="897">[ベース学生]ほたる</text><use href="#uD" class="p"/><text x="1069">[ベース魔法少女]茶々</text><use href="#uE" class="p"/><text x="1252">茶々＋</text><use href="#s3"/><use href="#uF" class="y"/><text x="1406">おんぷ＋</text><use href="#uG" class="p"/><text x="1559">ユーミR</text><use href="#uH" class="p"/><text x="1682">ユーミR</text><use href="#sM"/><use href="#uM1" class="y"/><text x="1808">[魔学生]ミラ</text><use href="#uM2" class="b"/><text x="1919">[奨学生]つばき</text><use href="#uM3" class="g"/><text x="2039">[奨学生]うつき</text><use href="#uR4" class="y"/><text x="2150">[魔法少女]パステル</text><text x="2269">貧乳</text></g>
<g transform="translate(0,134)"><use href="#uN" class="y"/><text x="539.5" class="m">結菜</text><use href="#s1"/><use href="#uR" class="b"/><text x="586">[ベース魔法少女]どれみ</text><use href="#uPA" class="y"/><text x="785.5" class="m">凛</text><use href="#uPB" class="p"/><text x="850.5" class="m">美桜</text><use href="#s2"/><use href="#uS" class="y"/><text x="897">[ベース学生]はるか</text><use href="#uD" class="b"/><text x="1069">[ベース魔法少女]どれみ</text><use href="#uE" class="b"/><text x="1252">どれみ＋</text></g>
<g transform="translate(0,162)"><use href="#uN" class="p"/><text x="539.5" class="m">結愛</text><use href="#s1"/><use href="#uR" class="b"/><text x="586">[ベース魔法少女]葉月</text><use href="#uPA" class="p"/><text x="785.5" class="m">美桜</text><use href="#uPB" class="p"/><text x="850.5" class="m">芽依</text><use href="#s2"/><use href="#uS" class="p"/><text x="897">[ベース学生]みちる</text><use href="#uD" class="b"/><text x="1069">[ベース魔法少女]葉月</text><use href="#uE" class="b"/><text x="1252">葉月＋</text></g>
<g transform="translate(0,190)"><use href="#uN" class="y"/><text x="539.5" class="m">ひなた</text><use href="#s1"/><use href="#uR" class="g"/><text x="586">[ベース魔法少女]アイコ</text><use href="#uPA" class="p"/><text x="785.5" class="m">芽依</text><use href="#uPB" class="b"/><text x="850.5" class="m">優奈</text><use href="#s2"/><use href="#uS" class="b"/><text x="897">[ベース学生]まち</text><use href="#uD" class="g"/><text x="1069">[ベース魔法少女]アイコ</text><use href="#uE" class="g"/><text x="1252">アイコ＋</text></g>
<g transform="translate(0,218)"><use href="#uPA" class="b"/><text x="785.5" class="m">優奈</text><use href="#uPB" class="g"/><text x="850.5" class="m">美結</text><use href="#s2"/><use href="#uS" class="g"/><text x="897">[ベース学生]くみ</text><use href="#uD" class="p"/><text x="1069">[ベース魔法少女]ユーミ</text><use href="#uE" class="y"/><text x="1252">おんぷ＋</text></g>
</g>

<g id="sec-kosho" transform="translate(0,1725)">
<rect class="box" x="255" y="15" width="107" height="28"/><text class="m k" x="308.5" y="29">小姓姫</text>
<g transform="translate(0,22)"><use href="#uN" class="b"/><text x="539.5" class="m">心春</text><use href="#s1"/><use href="#uR" class="b"/><text x="586">[ベース小姓姫]春</text><use href="#uPA" class="g"/><text x="785.5" class="m">美結</text><use href="#uPB" class="y"/><text x="850.5" class="m">心咲</text><use href="#s2"/><use href="#uS" class="y"/><text x="897">[ベース学生]しほ</text><use href="#uD" class="b"/><text x="1069">[ベース小姓姫]春</text><use href="#uE" class="b"/><text x="1252">春＋</text><use href="#s3"/><use href="#uF" class="b"/><text x="1406">ふみ＋</text><use href="#uG" class="b"/><text x="1559">濃R</text><use href="#uH" class="b"/><text x="1682">濃R</text></g>
<g transform="translate(0,50)"><use href="#uN" class="g"/><text x="539.5" class="m">心愛</text><use href="#s1"/><use href="#uR" class="g"/><text x="586">[ベース小姓姫]鶴</text><use href="#uPA" class="y"/><text x="785.5" class="m">心咲</text><use href="#uPB" class="p"/><text x="850.5" class="m">葵</text><use href="#s2"/><use href="#uS" class="p"/><text x="897">[ベース学生]なるみ</text><use href="#uD" class="g"/><text x="1069">[ベース小姓姫]鶴</text><use href="#uE" class="g"/><text x="1252">鶴＋</text><use href="#s3"/><use href="#uF" class="b"/><text x="1406">しえ＋</text><use href="#uG" class="g"/><text x="1559">加代R</text><use href="#uH" class="g"/><text x="1682">加代R</text></g>
<g transform="translate(0,78)"><use href="#uN" class="y"/><text x="539.5" class="m">凛</text><use href="#s1"/><use href="#uR" class="y"/><text x="586">[ベース小姓姫]紫乃</text><use href="#uPA" class="p"/><text x="785.5" class="m">葵</text><use href="#uPB" class="b"/><text x="850.5" class="m">花音</text><use href="#s2"/><use href="#uS" class="b"/><text x="897">[ベース学生]ちか</text><use href="#uD" class="y"/><text x="1069">[ベース小姓姫]紫乃</text><use href="#uE" class="y"/><text x="1252">紫乃＋</text><use href="#s3"/><use href="#uF" class="g"/><text x="1406">妙＋</text><use href="#uG" class="y"/><text x="1559">不二R</text><use href="#uH" class="y"/><text x="1682">不二R</text></g>
<g transform="translate(0,106)"><use href="#uA" class="p"/><text x="276" class="m">芽依</text><use href="#uB" class="b"/><text x="341" class="m">優奈</text><use href="#uC" class="b"/><text x="386">[ベース学生]まち</text><use href="#sF"/><use href="#uN" class="p"/><text x="539.5" class="m">美桜</text><use href="#s1"/><use href="#uR" class="p"/><text x="586">[ベース小姓姫]文</text><use href="#uPA" class="b"/><text x="785.5" class="m">花音</text><use href="#uPB" class="b"/><text x="850.5" class="m">心菜</text><use href="#s2"/><use href="#uS" class="g"/><text x="897">[ベース学生]なる</text><use href="#uD" class="p"/><text x="1069">[ベース小姓姫]文</text><use href="#uE" class="p"/><text x="1252">文＋</text><use href="#s3"/><use href="#uF" class="y"/><text x="1406">多美＋</text><use href="#uG" class="p"/><text x="1559">ふゆR</text><use href="#uH" class="p"/><text x="1682">ふゆR</text></g>
<g transform="translate(0,134)"><use href="#uN" class="p"/><text x="539.5" class="m">芽依</text><use href="#s1"/><use href="#uR" class="b"/><text x="586">[ベース小姓姫]ふみ</text><use href="#uPA" class="b"/><text x="785.5" class="m">心菜</text><use href="#uPB" class="g"/><text x="850.5" class="m">愛莉</text><use href="#s2"/><use href="#uS" class="y"/><text x="897">[ベース学生]ゆみこ</text><use href="#uD" class="b"/><text x="1069">[ベース小姓姫]ふみ</text><use href="#uE" class="b"/><text x="1252">ふみ＋</text></g>
<g transform="translate(0,162)"><use href="#uN" class="b"/><text x="539.5" class="m">優奈</text><use href="#s1"/><use href="#uR" class="b"/><text x="586">[ベース小姓姫]しえ</text><use href="#uPA" class="g"/><text x="785.5" class="m">愛莉</text><use href="#uPB" class="y"/><text x="850.5" class="m">心音</text><use href="#s2"/><use href="#uS" class="p"/><text x="897">[ベース学生]はるな</text><use href="#uD" class="b"/><text x="1069">[ベース小姓姫]しえ</text><use href="#uE" class="b"/><text x="1252">しえ＋</text></g>
<g transform="translate(0,190)"><use href="#uN" class="g"/><text x="539.5" class="m">美結</text><use href="#s1"/><use href="#uR" class="g"/><text x="586">[ベース小姓姫]妙</text><use href="#uPA" class="y"/><text x="785.5" class="m">心音</text><use href="#uPB" class="p"/><text x="850.5" class="m">優愛</text><use href="#s2"/><use href="#uS" class="b"/><text x="897">[ベース学生]るるな</text><use href="#uD" class="g"/><text x="1069">[ベース小姓姫]妙</text><use href="#uE" class="g"/><text x="1252">妙＋</text></g>
<g transform="translate(0,218)"><use href="#uPA" class="p"/><text x="785.5" class="m">優愛</text><use href="#uPB" class="g"/><text x="850.5" class="m">陽葵</text><use href="#s2"/><use href="#uS" class="y"/><text x="897">[ベース学生]ささら</text><use href="#uD" class="b"/><text x="1069">[ベース小姓姫]春</text><use href="#uE" class="y"/><text x="1252">多美＋</text></g>
</g>

<g id="sec-kishi" transform="translate(0,1963)">
<rect class="box" x="255" y="15" width="107" height="28"/><text class="m k" x="308.5" y="29">騎士</text>
<g transform="translate(0,22)"><use href="#uN" class="y"/><text x="539.5" class="m">心咲</text><use href="#s1"/><use href="#uR" class="b"/><text x="586">[ベース騎士]グレタ</text><use href="#uPA" class="g"/><text x="785.5" class="m">陽葵</text><use href="#uPB" class="b"/><text x="850.5" class="m">さくら</text><use href="#s2"/><use href="#uS" class="y"/><text x="897">[ベース学生]みこと</text><use href="#uD" class="b"/><text x="1069">[ベース騎士]グレタ</text><text x="1252">グレタ＋</text><use href="#s3"/><text x="1406">アンディ＋</text><text x="1559">タムシンR</text><text x="1682">タムシンR</text><use href="#sM"/><use href="#uM1" class="y"/><text x="1808">[聖学生]のぞみ</text><text x="1919">[奨学生]ひさぎ</text><use href="#uM3" class="g"/><text x="2039">[奨学生]きり</text><use href="#uR4" class="g"/><text x="2150">[騎士長]カイアナ</text><text x="2269">適乳</text></g>
<g transform="translate(0,50)"><use href="#uN" class="p"/><text x="539.5" class="m">葵</text><use href="#s1"/><use href="#uR" class="g"/><text x="586">[ベース騎士]ヘディ</text><use href="#uPA" class="b"/><text x="785.5" class="m">さくら</text><use href="#uPB" class="g"/><text x="850.5" class="m">芽生</text><use href="#s2"/><use href="#uS" class="p"/><text x="897">[ベース学生]れいか</text><use href="#uD" class="g"/><text x="1069">[ベース騎士]ヘディ</text><text x="1252">ヘディ＋</text><use href="#s3"/><text x="1406">イングリッド＋</text><text x="1559">スカーレットR</text><text x="1682">スカーレットR</text><use href="#sM"/><use href="#uM1" class="y"/><text x="1808">[聖学生]のぞみ</text><text x="1919">[奨学生]ひなぎく</text><use href="#uM3" class="y"/><text x="2039">[奨学生]こむぎ</text><use href="#uR4" class="p"/><text x="2150">[騎士長]サイアナ</text><text x="2269">適乳</text></g>
<g transform="translate(0,78)"><use href="#uN" class="b"/><text x="539.5" class="m">花音</text><use href="#s1"/><use href="#uR" class="y"/><text x="586">[ベース騎士]リース</text><use href="#uPA" class="g"/><text x="785.5" class="m">芽生</text><use href="#uPB" class="y"/><text x="850.5" class="m">優花</text><use href="#s2"/><use href="#uS" class="b"/><text x="897">[ベース学生]ことの</text><use href="#uD" class="y"/><text x="1069">[ベース騎士]リース</text><text x="1252">リース＋</text><use href="#s3"/><text x="1406">ジョディ＋</text><text x="1559">テレサR</text><text x="1682">テレサR</text><use href="#sM"/><use href="#uM1" class="y"/><text x="1808">[聖学生]のぞみ</text><use href="#uM2" class="y"/><text x="1919">[奨学生]ひまわり</text><use href="#uM3" class="p"/><text x="2039">[奨学生]もみじ</text><use href="#uR4" class="y"/><text x="2150">[騎士長]アウイン</text><text x="2269">貧乳</text></g>
<g transform="translate(0,106)"><use href="#uA" class="b"/><text x="276" class="m">優奈</text><use href="#uB" class="g"/><text x="341" class="m">美結</text><use href="#uC" class="g"/><text x="386">[ベース学生]くみ</text><use href="#sF"/><use href="#uN" class="b"/><text x="539.5" class="m">心菜</text><use href="#s1"/><use href="#uR" class="p"/><text x="586">[ベース騎士]グレイス</text><use href="#uPA" class="y"/><text x="785.5" class="m">優花</text><use href="#uPB" class="p"/><text x="850.5" class="m">優月</text><use href="#s2"/><use href="#uS" class="g"/><text x="897">[ベース学生]ゆめみ</text><use href="#uD" class="p"/><text x="1069">[ベース騎士]グレイス</text><text x="1252">グレイス＋</text><use href="#s3"/><text x="1406">ミシェル＋</text><text x="1559">エルR</text><text x="1682">エルR</text><use href="#sM"/><use href="#uM1" class="y"/><text x="1808">[聖学生]のぞみ</text><use href="#uM2" class="p"/><text x="1919">[奨学生]まき</text><use href="#uM3" class="y"/><text x="2039">[奨学生]ざくろ</text><use href="#uR4" class="b"/><text x="2150">[騎士長]スピネル</text><text x="2269">貧乳</text></g>
<g transform="translate(0,134)"><use href="#uN" class="g"/><text x="539.5" class="m">愛莉</text><use href="#s1"/><use href="#uR" class="b"/><text x="586">[ベース騎士]アンディ</text><use href="#uPA" class="p"/><text x="785.5" class="m">優月</text><use href="#uPB" class="y"/><text x="850.5" class="m">柚希</text><use href="#s2"/><use href="#uS" class="y"/><text x="897">[ベース学生]なな</text><use href="#uD" class="b"/><text x="1069">[ベース騎士]アンディ</text><text x="1252">アンディ＋</text></g>
<g transform="translate(0,162)"><use href="#uN" class="y"/><text x="539.5" class="m">心音</text><use href="#s1"/><use href="#uR" class="b"/><text x="586">[ベース騎士]イングリッド</text><use href="#uPA" class="y"/><text x="785.5" class="m">柚希</text><use href="#uPB" class="b"/><text x="850.5" class="m">綾音</text><use href="#s2"/><use href="#uS" class="p"/><text x="897">[ベース学生]なつみ</text><use href="#uD" class="b"/><text x="1069">[ベース騎士]イングリッド</text><text x="1252">イングリッド＋</text></g>
<g transform="translate(0,190)"><use href="#uN" class="p"/><text x="539.5" class="m">優愛</text><use href="#s1"/><use href="#uR" class="g"/><text x="586">[ベース騎士]ジョディ</text><use href="#uPA" class="b"/><text x="785.5" class="m">綾音</text><use href="#uPB" class="g"/><text x="850.5" class="m">杏奈</text><use href="#s2"/><use href="#uS" class="b"/><text x="897">[ベース学生]かおる</text><use href="#uD" class="g"/><text x="1069">[ベース騎士]ジョディ</text><text x="1252">ジョディ＋</text></g>
<g transform="translate(0,218)"><use href="#uPA" class="g"/><text x="785.5" class="m">杏奈</text><use href="#uPB" class="y"/><text x="850.5" class="m">一花</text><use href="#s2"/><use href="#uS" class="g"/><text x="897">[ベース学生]りん</text><use href="#uD" class="b"/><text x="1069">[ベース騎士]グレタ</text><text x="1252">ミシェル＋</text></g>
</g>

<g id="sec-angel" transform="translate(0,2216)">
<rect class="dot" x="255" y="13" width="107" height="29"/><text class="m k" x="308.5" y="27.5">[聖学生]のぞみ</text>
<g transform="translate(0,147)"><use href="#uA" class="b"/><text x="276" class="m">結衣</text><use href="#uB" class="g"/><text x="341" class="m">陽菜</text><use href="#uC" class="p"/><text x="386">[ベース学生]うさぎ</text><use href="#sF"/></g>
<g transform="translate(0,21.5)"><use href="#uN" class="b"/><text x="539.5" class="m">結衣</text><use href="#s1"/><use href="#uR" class="p"/><text x="586">[ベースエンジェル]ホワイト</text><use href="#sA"/><use href="#uS" class="p"/><text x="897">[ベースエンジェル]ホワイト</text><use href="#uD" class="b"/><text x="1069">[ベースエンジェル]パープル</text><use href="#uE" class="y"/><text x="1252">[片翼天使]結衣</text></g>
<g transform="translate(0,49.5)"><use href="#uN" class="g"/><text x="539.5" class="m">陽菜</text><use href="#s1"/><use href="#uR" class="b"/><text x="586">[ベースエンジェル]ブルー</text><use href="#sA"/><use href="#uS" class="b"/><text x="897">[ベースエンジェル]ブルー</text><use href="#uD" class="g"/><text x="1069">[ベースエンジェル]グリーン</text><use href="#uE" class="p"/><text x="1252">[片翼天使]陽菜</text></g>
<g transform="translate(0,77.5)"><use href="#uN" class="y"/><text x="539.5" class="m">結菜</text><use href="#s1"/><use href="#uR" class="g"/><text x="586">[ベースエンジェル]レッド</text><use href="#sA"/><use href="#uS" class="g"/><text x="897">[ベースエンジェル]レッド</text><use href="#uD" class="b"/><text x="1069">[ベースエンジェル]パープル</text><use href="#uE" class="b"/><text x="1252">[片翼天使]結菜</text><rect x="1403" y="-7.5" width="132" height="15" fill="#ff0000"/><text x="1469" class="m wt">5体生成</text><text x="1547" class="m">→</text><use href="#uG" class="y"/><text x="1559">[聖学生]のぞみ</text></g>
<g transform="translate(0,105.5)"><use href="#uN" class="p"/><text x="539.5" class="m">結愛</text><use href="#s1"/><use href="#uR" class="y"/><text x="586">[ベースエンジェル]ゴールド</text><use href="#sA"/><use href="#uS" class="y"/><text x="897">[ベースエンジェル]ゴールド</text><use href="#uD" class="g"/><text x="1069">[ベースエンジェル]グリーン</text><use href="#uE" class="b"/><text x="1252">[片翼天使]結愛</text></g>
<g transform="translate(0,133.5)"><use href="#uN" class="y"/><text x="539.5" class="m">ひなた</text><use href="#s1"/><use href="#uR" class="p"/><text x="586">[ベースエンジェル]ピンク</text><use href="#sA"/><use href="#uS" class="p"/><text x="897">[ベースエンジェル]ピンク</text><use href="#uD" class="b"/><text x="1069">[ベースエンジェル]パープル</text><use href="#uE" class="g"/><text x="1252">[片翼天使]ひなた</text></g>
<g transform="translate(0,161.5)"><use href="#uN" class="b"/><text x="539.5" class="m">心春</text><use href="#s1"/><use href="#uR" class="b"/><text x="586">[ベースエンジェル]パープル</text></g>
<g transform="translate(0,189.5)"><use href="#uN" class="g"/><text x="539.5" class="m">心愛</text><use href="#s1"/><use href="#uR" class="g"/><text x="586">[ベースエンジェル]グリーン</text></g>
<g transform="translate(0,217.5)"><use href="#uN" class="b"/><text x="539.5" class="m">心春</text><use href="#s1"/><use href="#uR" class="b"/><text x="586">[ベースエンジェル]パープル</text></g>
<g transform="translate(0,245.5)"><use href="#uN" class="g"/><text x="539.5" class="m">心愛</text><use href="#s1"/><use href="#uR" class="g"/><text x="586">[ベースエンジェル]グリーン</text></g>
<g transform="translate(0,273.5)"><use href="#uN" class="b"/><text x="539.5" class="m">心春</text><use href="#s1"/><use href="#uR" class="b"/><text x="586">[ベースエンジェル]パープル</text></g>
</g>

<g id="sec-devil" transform="translate(0,2510)">
<rect class="dot" x="255" y="13" width="107" height="29"/><text class="m k" x="308.5" y="27.5">[魔学生]ミラ</text>
<g transform="translate(0,147)"><use href="#uA" class="g"/><text x="276" class="m">陽菜</text><use href="#uB" class="y"/><text x="341" class="m">結菜</text><use href="#uC" class="b"/><text x="386">[ベース学生]れい</text><use href="#sF"/></g>
<g transform="translate(0,21.5)"><use href="#uN" class="y"/><text x="539.5" class="m">凛</text><use href="#s1"/><use href="#uR" class="p"/><text x="586">[ベースデビル]ホワイト</text><use href="#sA"/><use href="#uS" class="p"/><text x="897">[ベースデビル]ホワイト</text><use href="#uD" class="b"/><text x="1069">[ベースデビル]パープル</text><use href="#uE" class="y"/><text x="1252">[片翼悪魔]心春</text></g>
<g transform="translate(0,49.5)"><use href="#uN" class="p"/><text x="539.5" class="m">美桜</text><use href="#s1"/><use href="#uR" class="b"/><text x="586">[ベースデビル]ブルー</text><use href="#sA"/><use href="#uS" class="b"/><text x="897">[ベースデビル]ブルー</text><use href="#uD" class="g"/><text x="1069">[ベースデビル]グリーン</text><use href="#uE" class="p"/><text x="1252">[片翼悪魔]心愛</text></g>
<g transform="translate(0,77.5)"><use href="#uN" class="p"/><text x="539.5" class="m">芽依</text><use href="#s1"/><use href="#uR" class="g"/><text x="586">[ベースデビル]レッド</text><use href="#sA"/><use href="#uS" class="g"/><text x="897">[ベースデビル]レッド</text><use href="#uD" class="b"/><text x="1069">[ベースデビル]パープル</text><use href="#uE" class="b"/><text x="1252">[片翼悪魔]凛</text><rect x="1403" y="-7.5" width="132" height="15" fill="#ff0000"/><text x="1469" class="m wt">5体生成</text><text x="1547" class="m">→</text><use href="#uG" class="y"/><text x="1559">[魔学生]ミラ</text></g>
<g transform="translate(0,105.5)"><use href="#uN" class="b"/><text x="539.5" class="m">優奈</text><use href="#s1"/><use href="#uR" class="y"/><text x="586">[ベースデビル]ゴールド</text><use href="#sA"/><use href="#uS" class="y"/><text x="897">[ベースデビル]ゴールド</text><use href="#uD" class="g"/><text x="1069">[ベースデビル]グリーン</text><use href="#uE" class="y"/><text x="1252">[片翼悪魔]美桜</text></g>
<g transform="translate(0,133.5)"><use href="#uN" class="g"/><text x="539.5" class="m">美結</text><use href="#s1"/><use href="#uR" class="p"/><text x="586">[ベースデビル]ピンク</text><use href="#sA"/><use href="#uS" class="p"/><text x="897">[ベースデビル]ピンク</text><use href="#uD" class="b"/><text x="1069">[ベースデビル]パープル</text><use href="#uE" class="g"/><text x="1252">[片翼悪魔]芽依</text></g>
<g transform="translate(0,161.5)"><use href="#uN" class="y"/><text x="539.5" class="m">心咲</text><use href="#s1"/><use href="#uR" class="b"/><text x="586">[ベースデビル]パープル</text></g>
<g transform="translate(0,189.5)"><use href="#uN" class="p"/><text x="539.5" class="m">葵</text><use href="#s1"/><use href="#uR" class="g"/><text x="586">[ベースデビル]グリーン</text></g>
<g transform="translate(0,217.5)"><use href="#uN" class="b"/><text x="539.5" class="m">心春</text><use href="#s1"/><use href="#uR" class="b"/><text x="586">[ベースデビル]パープル</text></g>
<g transform="translate(0,245.5)"><use href="#uN" class="g"/><text x="539.5" class="m">心愛</text><use href="#s1"/><use href="#uR" class="g"/><text x="586">[ベースデビル]グリーン</text></g>
<g transform="translate(0,273.5)"><use href="#uN" class="b"/><text x="539.5" class="m">心春</text><use href="#s1"/><use href="#uR" class="b"/><text x="586">[ベースデビル]パープル</text></g>
</g>

<g id="columns">
<rect class="col" x="113" y="46" width="113" height="868"/>
<rect class="col" x="583" y="46" width="160" height="2757"/>
<rect class="col" x="894" y="46" width="151" height="2757"/>
<rect class="col" x="1249.5" y="46" width="132" height="2757"/>
<rect class="col" x="1556.5" y="46" width="91" height="2757"/>
<rect class="col" x="1680" y="46" width="104" height="2155"/>
<rect x="2147" y="46" width="118" height="14" fill="#ff0000"/>
<rect class="col" x="2147" y="46" width="118" height="2155"/>
<text class="m" x="169.5" y="53">ベース学生生成</text>
<text class="m" x="663" y="53">生成結果:ベース生成R1</text>
<text class="m" x="970" y="53">ベース学生生成</text>
<text class="m" x="1315.5" y="53">生成結果:R2</text>
<text class="m" x="1602" y="53">生成結果:R3</text>
<text class="m" x="1732" y="53">進化元:R3 Lvmax</text>
<text class="m" x="1851" y="53">素材1</text>
<text class="m" x="1967" y="53">素材2</text>
<text class="m" x="2082" y="53">素材3</text>
<text class="m wt" x="2206" y="53">進化後:R4</text>
</g>

<g id="connectors">
<use href="#brc" y="59"/><use href="#arr" y="59"/>
<use href="#brc" y="297"/><use href="#arr" y="297"/>
<use href="#brc" y="535"/><use href="#arr" y="535"/>
<use href="#brc" y="773"/><use href="#arr" y="773"/>
<use href="#brc" y="1011"/><use href="#arr" y="1011"/>
<use href="#brc" y="1487"/><use href="#arr" y="1487"/>
<use href="#brc" y="1725"/><use href="#arr" y="1725"/>
<use href="#brU" y="2216"/><use href="#brL" y="2216"/><use href="#arB" y="2216"/>
<use href="#brU" y="2510"/><use href="#brL" y="2510"/><use href="#arB" y="2510"/>
</g>
</svg>
